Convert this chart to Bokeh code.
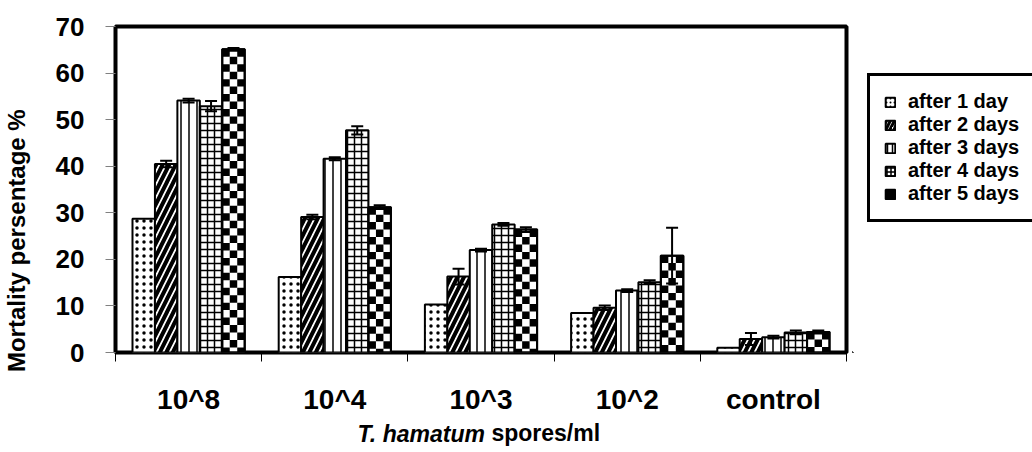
import math
from bokeh.plotting import figure
from bokeh.layouts import row
from bokeh.models import (ColumnDataSource, Range1d, LinearAxis,
                          FixedTicker, Whisker, TeeHead, Legend, LegendItem)
from bokeh.transform import dodge
from bokeh.embed import file_html
from bokeh.resources import INLINE

categories = ["10^8", "10^4", "10^3", "10^2", "control"]
series_names = ["after 1 day", "after 2 days", "after 3 days", "after 4 days", "after 5 days"]
day1 = [28.7, 16.2, 10.3, 8.5, 1.0]
day2 = [40.5, 29.1, 16.3, 9.6, 2.9]
day3 = [54.1, 41.6, 22.0, 13.3, 3.3]
day4 = [52.9, 47.7, 27.5, 15.1, 4.3]
day5 = [65.1, 31.2, 26.4, 20.8, 4.4]
err1 = [0, 0, 0, 0, 0]
err2 = [0.7, 0.5, 1.7, 0.5, 1.3]
err3 = [0.4, 0.3, 0.3, 0.3, 0.3]
err4 = [1.1, 0.9, 0.3, 0.4, 0.4]
err5 = [0.3, 0.4, 0.5, 6.0, 0.3]
y_ticks = [0, 10, 20, 30, 40, 50, 60, 70]
y_title = "Mortality persentage %"
x_title_italic = "T. hamatum"
x_title_plain = "spores/ml"

FONT = "Liberation Sans"
n = len(categories)
xpos = [i + 0.5 for i in range(n)]

p = figure(width=852, height=452, x_range=Range1d(0, n), y_range=Range1d(0, 70),
           output_backend="svg", toolbar_location=None, x_axis_location=None,
           min_border_left=113, min_border_right=6, min_border_top=26, min_border_bottom=100)
p.background_fill_color = "white"
p.border_fill_color = "white"
p.outline_line_color = "black"
p.outline_line_width = 4
p.xgrid.visible = False
p.ygrid.visible = False

# y axis
ya = p.yaxis[0]
ya.ticker = FixedTicker(ticks=y_ticks)
ya.axis_line_color = None
ya.major_tick_out = 10
ya.major_tick_in = 0
ya.major_tick_line_color = "#808080"
ya.minor_tick_line_color = None
ya.major_label_standoff = 21
ya.major_label_text_font = FONT
ya.major_label_text_font_style = "bold"
ya.major_label_text_font_size = "26px"
ya.major_label_text_color = "black"

# y title as a positioned label axis
ytitle_axis = LinearAxis(ticker=FixedTicker(ticks=[24]), major_label_overrides={24: y_title},
                         major_label_orientation="vertical", major_tick_line_color=None,
                         minor_tick_line_color=None, axis_line_color=None, major_label_standoff=16,
                         major_label_text_font=FONT, major_label_text_font_style="bold",
                         major_label_text_font_size="24px", major_label_text_color="black")
p.add_layout(ytitle_axis, "left")

# boundary ticks on x (between categories)
tick_axis = LinearAxis(ticker=FixedTicker(ticks=list(range(n + 1))),
                       major_label_text_color=None, major_label_text_font_size="1px",
                       major_label_standoff=0, major_tick_out=9, major_tick_in=0,
                       major_tick_line_color="black", minor_tick_line_color=None,
                       axis_line_color=None)
p.add_layout(tick_axis, "below")

# category labels
cat_axis = LinearAxis(ticker=FixedTicker(ticks=xpos),
                      major_label_overrides={x: c for x, c in zip(xpos, categories)},
                      major_tick_line_color=None, minor_tick_line_color=None, axis_line_color=None,
                      major_label_standoff=16, major_label_text_font=FONT,
                      major_label_text_font_style="bold", major_label_text_font_size="28px",
                      major_label_text_color="black")
p.add_layout(cat_axis, "below")

# x title: italic part and plain part on the same line
xt_a = LinearAxis(ticker=FixedTicker(ticks=[2.091]), major_label_overrides={2.091: x_title_italic},
                  major_tick_line_color=None, minor_tick_line_color=None, axis_line_color=None,
                  major_label_standoff=-3, major_label_text_font=FONT,
                  major_label_text_font_style="bold italic", major_label_text_font_size="23px",
                  major_label_text_color="black")
p.add_layout(xt_a, "below")
xt_b = LinearAxis(ticker=FixedTicker(ticks=[2.943]), major_label_overrides={2.943: x_title_plain},
                  major_tick_line_color=None, minor_tick_line_color=None, axis_line_color=None,
                  major_label_standoff=-36, major_label_text_font=FONT,
                  major_label_text_font_style="bold", major_label_text_font_size="23px",
                  major_label_text_color="black")
p.add_layout(xt_b, "below")

values = [day1, day2, day3, day4, day5]
errors = [err1, err2, err3, err4, err5]
offsets = [-0.307, -0.1535, 0.0, 0.1535, 0.307]
BW = 0.1535
hatches = [
    dict(hatch_pattern="dot", hatch_scale=7, hatch_weight=1.5),
    dict(hatch_pattern="right_diagonal_line", hatch_scale=13, hatch_weight=4),
    dict(hatch_pattern="vertical_line", hatch_scale=8, hatch_weight=1.5),
    dict(hatch_pattern="cross", hatch_scale=7, hatch_weight=1.5),
    dict(),
]

for k, (name, vals, errs, off, hatch) in enumerate(zip(series_names, values, errors, offsets, hatches)):
    src = ColumnDataSource(dict(x=xpos, v=vals))
    p.vbar(x=dodge("x", off), top="v", width=BW, source=src,
           fill_color="white", line_color="black", line_width=2, hatch_color="black", **hatch)
    if k == 4:
        # checkerboard fill for the last series, built from the bar heights
        cell_h = 1.6
        ncol = 3
        L, R, B, T = [], [], [], []
        for x, top in zip(xpos, vals):
            left0 = x + off - BW / 2
            cw = BW / ncol
            for rw in range(int(math.ceil(top / cell_h))):
                for c in range(ncol):
                    if (rw + c) % 2 == 0:
                        L.append(left0 + c * cw)
                        R.append(left0 + (c + 1) * cw)
                        B.append(max(top - (rw + 1) * cell_h, 0))
                        T.append(top - rw * cell_h)
        p.quad(left=L, right=R, bottom=B, top=T, fill_color="black", line_color=None)
        p.vbar(x=dodge("x", off), top="v", width=BW, source=src,
               fill_color=None, line_color="black", line_width=2)
    ex = [x for x, e in zip(xpos, errs) if e > 0]
    ev = [v for v, e in zip(vals, errs) if e > 0]
    ee = [e for e in errs if e > 0]
    if ex:
        esrc = ColumnDataSource(dict(x=ex, lo=[a - b for a, b in zip(ev, ee)], hi=[a + b for a, b in zip(ev, ee)]))
        w = Whisker(base=dodge("x", off), lower="lo", upper="hi", source=esrc,
                    line_color="black", line_width=2, level="annotation",
                    upper_head=TeeHead(size=12, line_width=2, line_color="black"),
                    lower_head=TeeHead(size=12, line_width=2, line_color="black"))
        p.add_layout(w)

# legend panel as a separate figure to the right
leg = figure(width=180, height=452, x_range=Range1d(0, 1), y_range=Range1d(0, 1),
             output_backend="svg", toolbar_location=None, x_axis_location=None, y_axis_location=None,
             min_border=0)
leg.outline_line_color = None
leg.xgrid.visible = False
leg.ygrid.visible = False
leg.background_fill_color = "white"
leg.border_fill_color = "white"

legend_styles = [
    dict(fill_color="white", hatch_pattern="dot", hatch_scale=4, hatch_weight=1.5, hatch_color="black"),
    dict(fill_color="white", hatch_pattern="right_diagonal_line", hatch_scale=8, hatch_weight=3, hatch_color="black"),
    dict(fill_color="white", hatch_pattern="vertical_line", hatch_scale=5, hatch_weight=1.5, hatch_color="black"),
    dict(fill_color="white", hatch_pattern="cross", hatch_scale=4, hatch_weight=1.5, hatch_color="black"),
    dict(fill_color="black"),
]
items = []
for name, st in zip(series_names, legend_styles):
    # one bar per series placed far outside the visible ranges, used only for the legend swatch
    r = leg.vbar(x=[-100], top=[-100], bottom=[-101], width=0.1, line_color="black", line_width=2, **st)
    items.append(LegendItem(label=name, renderers=[r]))

legend = Legend(items=items, location=(15, 130), border_line_color="black", border_line_width=3,
                border_line_alpha=1.0, background_fill_color="white", background_fill_alpha=1,
                label_text_font=FONT, label_text_font_style="bold", label_text_font_size="20px",
                label_text_color="black", glyph_width=12, glyph_height=12, label_standoff=12,
                padding=14, spacing=0, margin=0, label_height=20)
leg.add_layout(legend, "center")

layout = row(p, leg, spacing=0)
open("out.html", "w").write(file_html(layout, INLINE))
